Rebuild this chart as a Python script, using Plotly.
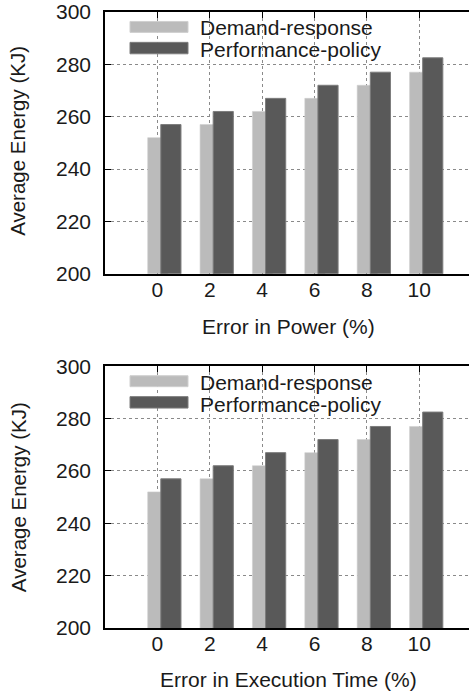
import plotly.graph_objects as go

# Energy consumption under prediction error, two policies
error_levels = ["0", "2", "4", "6", "8", "10"]
series_names = ["Demand-response", "Performance-policy"]
power_demand = [252, 257, 262, 267, 272, 277]
power_perf = [257, 262, 267, 272, 277, 282.5]
time_demand = [252, 257, 262, 267, 272, 277]
time_perf = [257, 262, 267, 272, 277, 282.5]
y_ticks = [200, 220, 240, 260, 280, 300]

LIGHT = "#bbbbbb"
DARK = "#595959"
EDGE = "#7c7c7c"
GRID = "#8a8a8a"
FAMILY = "Liberation Sans, Arial, sans-serif"
FONT = dict(family=FAMILY, size=21, color="#1a1a1a")
TITLE_FONT = dict(family=FAMILY, size=20.5, color="#1a1a1a")

W, H = 469, 696
ML, MR, MT, MB = 105, 0, 9, 68
PW = W - ML - MR
PH = H - MT - MB
PANEL = 263  # px height of each panel

BAR_W = 0.385
SHIFT_LIGHT = 0.008
SHIFT_DARK = 0.258
idx = list(range(len(error_levels)))

fig = go.Figure()

panels = [
    ("x", "y", power_demand, power_perf),
    ("x2", "y2", time_demand, time_perf),
]
for xa, ya, light_vals, dark_vals in panels:
    fig.add_trace(go.Bar(
        x=[i + SHIFT_LIGHT for i in idx], y=light_vals, base=0,
        width=BAR_W, name=series_names[0], xaxis=xa, yaxis=ya,
        marker=dict(color=LIGHT, line=dict(color="#cfcfcf", width=0.6)),
        showlegend=False,
    ))
    fig.add_trace(go.Bar(
        x=[i + SHIFT_DARK for i in idx], y=dark_vals, base=0,
        width=BAR_W, name=series_names[1], xaxis=xa, yaxis=ya,
        marker=dict(color=DARK, line=dict(color=EDGE, width=1)),
        showlegend=False,
    ))

x_range = [-1, 5.95]
xcommon = dict(
    range=x_range, tickmode="array", tickvals=idx, ticktext=error_levels,
    ticks="inside", ticklen=6, tickcolor="black", tickwidth=1,
    showgrid=True, gridcolor=GRID, griddash="dot", gridwidth=1,
    showline=True, linecolor="black", linewidth=1.5, mirror="ticks",
    layer="below traces",
    zeroline=False, ticklabelstandoff=-4, tickfont=FONT, fixedrange=True,
)
ycommon = dict(
    range=[200, 300], tickmode="array", tickvals=y_ticks,
    ticks="inside", ticklen=6, tickcolor="black",
    showgrid=True, gridcolor=GRID, griddash="dot", gridwidth=1,
    showline=True, linecolor="black", linewidth=1.5, mirror=False,
    ticklabeloverflow="allow",
    zeroline=False, ticklabelstandoff=8, tickfont=FONT, fixedrange=True,
)

dom_top = [1 - PANEL / PH, 1]
dom_bot = [0, PANEL / PH]

fig.update_layout(
    width=W, height=H,
    margin=dict(l=ML, r=MR, t=MT, b=MB, pad=0),
    paper_bgcolor="white", plot_bgcolor="white",
    barmode="overlay", font=FONT, showlegend=False,
    xaxis=dict(**xcommon, anchor="y"),
    yaxis=dict(**ycommon, domain=dom_top, anchor="x"),
    xaxis2=dict(**xcommon, anchor="y2"),
    yaxis2=dict(**ycommon, domain=dom_bot, anchor="x2"),
)

x_titles = ["Error in Power (%)", "Error in Execution Time (%)"]
y_title = "Average Energy (KJ)"


def px_x(p):
    return (p - ML) / PW


shapes = []
annotations = []
for k, ya in enumerate(["y", "y2"]):
    dref = f"{ya} domain"
    # legend swatches and labels
    rows = [(LIGHT, "#cfcfcf", 9.5, 20.5, 16), (DARK, EDGE, 30.5, 42, 38)]
    for (fill, edge, top_off, bot_off, txt_off), name in zip(rows, series_names):
        shapes.append(dict(
            type="rect", xref="paper", yref=dref,
            x0=px_x(130), x1=px_x(188),
            y0=1 - bot_off / PANEL, y1=1 - top_off / PANEL,
            fillcolor=fill, line=dict(color=edge, width=1), layer="above",
        ))
        annotations.append(dict(
            text=name, xref="paper", yref=dref, x=px_x(198),
            y=1 - txt_off / PANEL, xanchor="left", yanchor="middle",
            showarrow=False, font=FONT,
        ))
    annotations.append(dict(
        text=x_titles[k], xref="paper", yref=dref, x=px_x(288), y=0,
        yshift=-53 if k == 0 else -51, xanchor="center", yanchor="middle",
        showarrow=False, font=FONT,
    ))
    annotations.append(dict(
        text=y_title, xref="paper", yref=dref, x=0, xshift=-(ML - 18),
        y=0.5, yshift=2 if k == 0 else 0, xanchor="center", yanchor="middle",
        textangle=-90, showarrow=False, font=TITLE_FONT,
    ))

fig.update_layout(shapes=shapes, annotations=annotations)

fig.write_html("out.html", config={"displayModeBar": False})
